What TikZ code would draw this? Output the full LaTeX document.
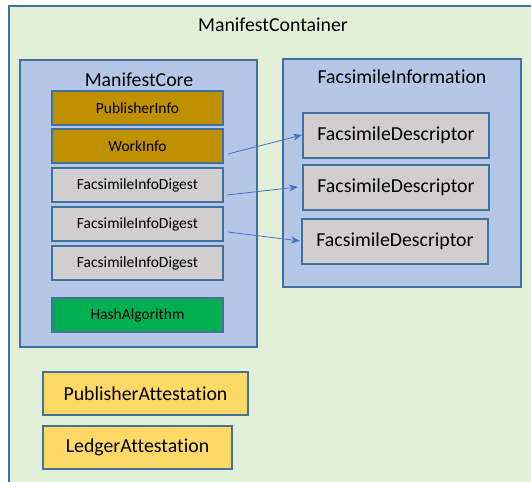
\documentclass[tikz,border=0pt]{standalone}
\usepackage{fontspec}
\setmainfont[Ligatures={NoCommon}]{Carlito}
\usetikzlibrary{arrows.meta}
\definecolor{cgreen}{HTML}{E2F0D9}
\definecolor{cblue}{HTML}{B4C7E7}
\definecolor{cline}{HTML}{41719C}
\definecolor{cgold}{HTML}{BF9000}
\definecolor{cgray}{HTML}{D0CECE}
\definecolor{chash}{HTML}{00B050}
\definecolor{cyel}{HTML}{FFD966}
\definecolor{carrow}{HTML}{4472C4}
\tikzset{
  box/.style={draw=cline, line width=1.2pt, inner sep=0pt, outer sep=0pt, anchor=north west},
  smalltxt/.style={font=\fontsize{15.5}{18}\selectfont},
  bigtxt/.style={font=\fontsize{19.8}{23}\selectfont},
  core item/.style={box, minimum width=171pt, minimum height=34pt},
  desc item/.style={box, fill=cgray, minimum width=186pt, minimum height=45pt},
  att item/.style={box, fill=cyel, minimum height=43pt},
  conn/.style={draw=carrow, line width=0.8pt, -{Stealth[length=9pt,width=7pt]}}
}
\begin{document}
\begin{tikzpicture}[x=1pt,y=-1pt]
\useasboundingbox (0,0) rectangle (531,482);
\fill[white] (0,0) rectangle (531,482);
% container
\node[box, fill=cgreen, minimum width=540pt, minimum height=490pt] (container) at (9,6) {};
\node[bigtxt] (containerT) at (273,25) {ManifestContainer};
% core
\node[box, fill=cblue, minimum width=237pt, minimum height=287pt] (core) at (20,60) {};
\node[bigtxt] (coreT) at (139,80) {ManifestCore};
\node[core item, fill=cgold] (pub) at (52,91) {};
\node[smalltxt] (pubT) at (pub.center) {PublisherInfo};
\node[core item, fill=cgold] (work) at (52,129) {};
\node[smalltxt] (workT) at (work.center) {WorkInfo};
\node[core item, fill=cgray] (fid1) at (52,168) {};
\node[smalltxt] (fid1T) at (fid1.center) {FacsimileInfoDigest};
\node[core item, fill=cgray] (fid2) at (52,207) {};
\node[smalltxt] (fid2T) at (fid2.center) {FacsimileInfoDigest};
\node[core item, fill=cgray] (fid3) at (52,246) {};
\node[smalltxt] (fid3T) at (fid3.center) {FacsimileInfoDigest};
\node[core item, fill=chash] (hash) at (52,298) {};
\node[smalltxt] (hashT) at (hash.center) {HashAlgorithm};
% facsimile information
\node[box, fill=cblue, minimum width=238pt, minimum height=228pt] (finfo) at (283,59) {};
\node[bigtxt] (finfoT) at (402,77) {FacsimileInformation};
\node[desc item] (fd1) at (303,113) {};
\node[bigtxt] (fd1T) at (fd1.center) {FacsimileDescriptor};
\node[desc item] (fd2) at (303,165) {};
\node[bigtxt] (fd2T) at (fd2.center) {FacsimileDescriptor};
\node[desc item] (fd3) at (302,219) {};
\node[bigtxt] (fd3T) at (fd3.center) {FacsimileDescriptor};
% attestations
\node[att item, minimum width=205pt] (patt) at (43,372) {};
\node[bigtxt] (pattT) at (patt.center) {PublisherAttestation};
\node[att item, minimum width=189pt] (latt) at (43,426) {};
\node[bigtxt] (lattT) at (latt.center) {LedgerAttestation};
% arrows
\coordinate (s1) at (228,154);
\coordinate (e1) at (302,135);
\coordinate (s2) at (227,195);
\coordinate (e2) at (298,187);
\coordinate (s3) at (228,232);
\coordinate (e3) at (300,241);
\draw[conn] (s1) -- (e1);
\draw[conn] (s2) -- (e2);
\draw[conn] (s3) -- (e3);
\end{tikzpicture}
\end{document}
